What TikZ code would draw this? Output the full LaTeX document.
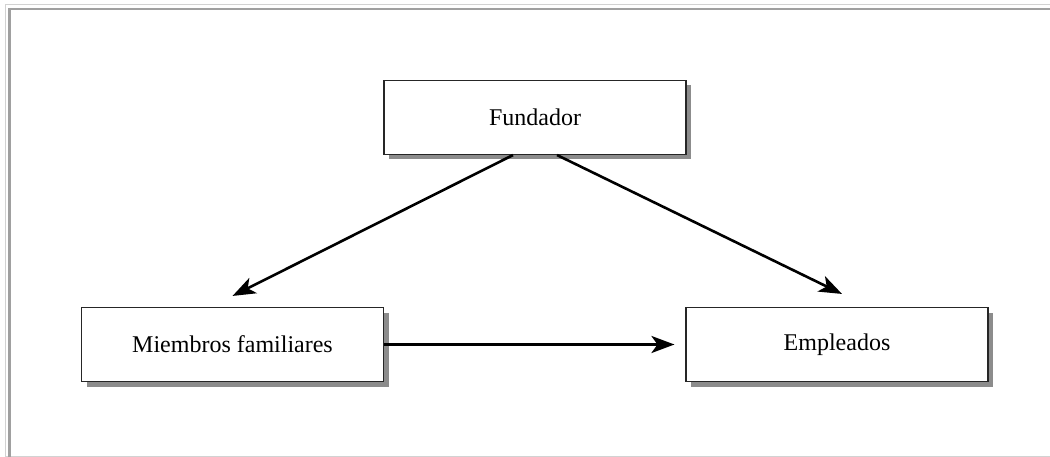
\documentclass[tikz,border=0pt]{standalone}
\usepackage{fontspec}
\setmainfont{Liberation Serif}
\usetikzlibrary{arrows.meta,shadows,calc}
\definecolor{framelight}{HTML}{D2D2D2}
\definecolor{framedark}{HTML}{A0A0A0}
\definecolor{shadowgray}{HTML}{8C8C8C}
\begin{document}
\begin{tikzpicture}[x=1pt,y=-1pt,
  box/.style={draw=black!85, line width=1.1pt, fill=white, minimum width=302pt, minimum height=74pt,
    inner sep=0pt, font=\fontsize{24}{28}\selectfont,
    drop shadow={shadow xshift=5pt, shadow yshift=-5pt, fill=shadowgray, opacity=1}},
  link/.style={line width=2.6pt, -{Stealth[length=23pt, width=17pt, inset=6pt]}}]
  \useasboundingbox (0,0) rectangle (1050,457);
  % page frame
  \draw[framelight, line width=1.2pt] (5.5,457) -- (5.5,4.8) -- (1050,4.8);
  \draw[framelight, line width=1pt] (5.5,456) -- (1050,456);
  \fill[framedark] (8,457) rectangle (11,8);
  \fill[framedark] (8,8) rectangle (1050,10.5);
  % boxes
  \node[box] (fund) at (535,117.5) {Fundador};
  \node[box] (fam) at (232.5,344.5) {Miembros familiares};
  \node[box] (emp) at (837,344.5) {Empleados};
  % arrow end points
  \coordinate (famtip) at ($(fam.north)+(0,-11)$);
  \coordinate (emptip) at ($(emp.north)+(5,-13)$);
  \draw[link] ($(fund.south)+(-22,0)$) -- (famtip);
  \draw[link] ($(fund.south)+(22,0)$) -- (emptip);
  \draw[link, shorten >=11pt] (fam.east) -- (emp.west);
\end{tikzpicture}
\end{document}
